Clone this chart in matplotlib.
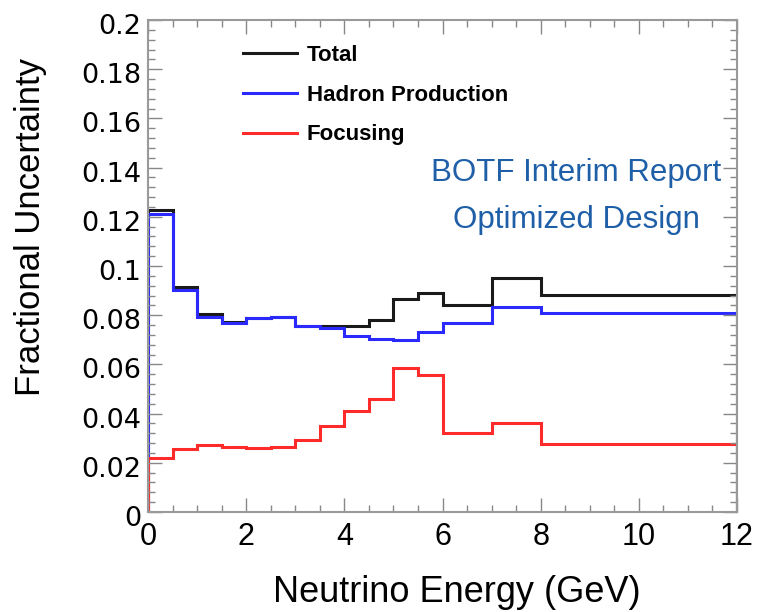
import matplotlib
matplotlib.use("Agg")
import matplotlib.pyplot as plt
from matplotlib.ticker import MultipleLocator
from matplotlib.transforms import ScaledTranslation
import numpy as np

plt.rcParams['font.family'] = ['Liberation Sans', 'DejaVu Sans']

# bin edges (GeV) and fractional uncertainties per bin
edges = [0, 0.5, 1, 1.5, 2, 2.5, 3, 3.5, 4, 4.5, 5, 5.5, 6, 7, 8, 12]
total = [0.1228, 0.0916, 0.0804, 0.0774, 0.0787, 0.0791, 0.0757, 0.0756,
         0.0756, 0.0780, 0.0865, 0.0889, 0.0841, 0.0950, 0.0882]
hadron = [0.1211, 0.0902, 0.0794, 0.0770, 0.0787, 0.0791, 0.0755, 0.0747,
          0.0715, 0.0702, 0.0699, 0.0733, 0.0767, 0.0835, 0.0810]
focusing = [0.0221, 0.0255, 0.0272, 0.0266, 0.0259, 0.0266, 0.0293, 0.0351,
            0.0412, 0.0458, 0.0584, 0.0557, 0.0322, 0.0360, 0.0275]
labels = ["Total", "Hadron Production", "Focusing"]

fig = plt.figure(figsize=(7.59, 6.12), dpi=100)
ax = fig.add_axes([148/759, 1 - 512/612, 589/759, 492/612])

ax.stairs(total, edges, color='#1a1a1a', lw=2.2, label=labels[0])
ax.stairs(hadron, edges, color='#2a2aff', lw=2.2, label=labels[1])
ax.stairs(focusing, edges, color='#ff2a2a', lw=2.2, label=labels[2])

ax.set_xlim(0, 12)
ax.set_ylim(0, 0.2)
ax.xaxis.set_major_locator(MultipleLocator(2))
ax.xaxis.set_minor_locator(MultipleLocator(0.5))
ax.yaxis.set_major_locator(MultipleLocator(0.02))
ax.yaxis.set_minor_locator(MultipleLocator(0.004))
ax.tick_params(which='both', direction='in', top=True, right=True,
               color='#888888')
ax.tick_params(which='major', length=10, width=1)
ax.tick_params(which='minor', length=5, width=1)
ax.tick_params(axis='x', labelsize=22, pad=7)
ax.tick_params(axis='y', labelsize=19.5, pad=5)
for s in ax.spines.values():
    s.set_color('#999999')
    s.set_linewidth(1.5)

ax.yaxis.set_major_formatter(plt.FuncFormatter(lambda v, p: f"{v:g}"))
ax.xaxis.set_major_formatter(plt.FuncFormatter(lambda v, p: f"{v:g}"))

# y tick labels are wider and sit a little below their ticks
shift = ScaledTranslation(0, -4/100, fig.dpi_scale_trans)
for lab in ax.get_yticklabels():
    lab.set_family('DejaVu Sans')
    lab.set_transform(lab.get_transform() + shift)

ax.set_xlabel("Neutrino Energy (GeV)", fontsize=26)
ax.xaxis.set_label_coords(0.525, -0.128)
ax.set_ylabel("Fractional Uncertainty", fontsize=25)
ax.yaxis.set_label_coords(-0.172, 0.579)

leg = ax.legend(loc='upper left', bbox_to_anchor=(0.161, 0.949), frameon=False,
                prop={'weight': 'bold', 'size': 16}, handlelength=2.43,
                handletextpad=0.45, labelspacing=0.84, borderpad=0, borderaxespad=0)

ax.text(0.727, 0.689, "BOTF Interim Report", transform=ax.transAxes, ha='center',
        va='center', fontsize=22.5, color='#1f5fa8')
ax.text(0.727, 0.593, "Optimized Design", transform=ax.transAxes, ha='center',
        va='center', fontsize=22.5, color='#1f5fa8')

fig.savefig("out.png", dpi=100)
